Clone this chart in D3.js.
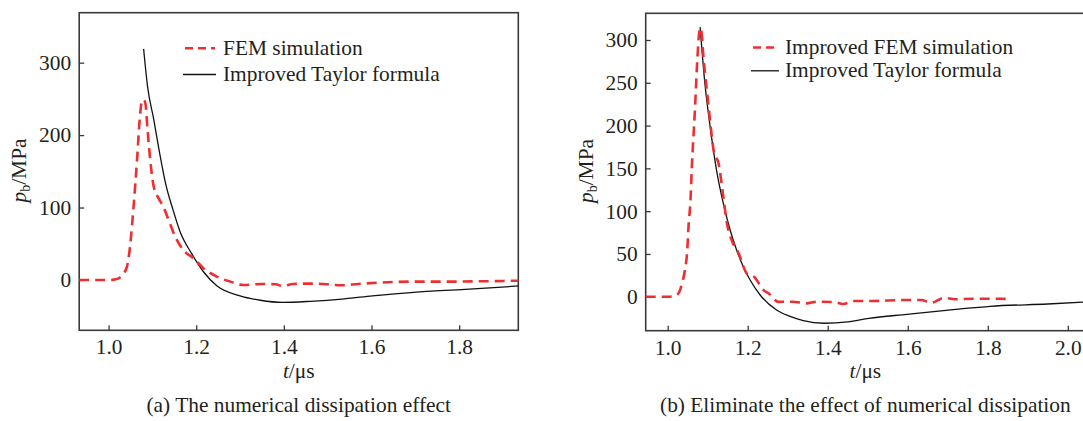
<!DOCTYPE html>
<html>
<head>
<meta charset="utf-8">
<script src="https://cdn.jsdelivr.net/npm/d3@7"></script>
<style>
  body { margin: 0; background: #fff; }
  svg text { font-family: "Liberation Serif", "Times New Roman", serif; fill: #231f20; }
</style>
</head>
<body>
<div id="chart"></div>
<script>
// Panel (a): FEM simulation vs improved Taylor formula
const femTimeA = [0.933, 1.000, 1.012, 1.023, 1.033, 1.042, 1.049, 1.057, 1.065, 1.071, 1.076, 1.080, 1.084, 1.089, 1.095, 1.103, 1.114, 1.125, 1.137, 1.152, 1.171, 1.194, 1.217, 1.247, 1.278, 1.308, 1.350, 1.381, 1.397, 1.421, 1.460, 1.500, 1.531, 1.570, 1.617, 1.696, 1.775, 1.853, 1.935];
const femPressA = [0, 0, 0.5, 2.3, 8, 18.4, 46, 101, 166, 221, 247, 249, 244, 207, 166, 129, 113, 101, 83, 60, 41, 30, 16, 4.6, -2.3, -6.9, -5.5, -6, -8.3, -5.5, -5, -6, -7.4, -5.5, -3.7, -2.3, -2.3, -1.8, -1];
const taylorTimeA = [1.080, 1.089, 1.103, 1.116, 1.131, 1.146, 1.163, 1.190, 1.217, 1.247, 1.300, 1.346, 1.397, 1.460, 1.539, 1.602, 1.696, 1.814, 1.936];
const taylorPressA = [319, 267, 222, 177, 131, 99, 67, 36, 11, -8, -22, -28, -31, -29.5, -26, -22, -17, -13, -8.3];

// Panel (b): improved FEM simulation vs improved Taylor formula
const femTimeB = [0.945, 1.000, 1.015, 1.027, 1.036, 1.043, 1.049, 1.052, 1.057, 1.060, 1.068, 1.074, 1.079, 1.081, 1.084, 1.088, 1.093, 1.100, 1.106, 1.116, 1.127, 1.139, 1.148, 1.160, 1.177, 1.198, 1.217, 1.239, 1.252, 1.277, 1.313, 1.347, 1.373, 1.416, 1.438, 1.468, 1.512, 1.590, 1.633, 1.659, 1.676, 1.689, 1.719, 1.763, 1.806, 1.849];
const femPressB = [0, 0, 0.5, 4, 16, 31, 55, 82, 113, 148, 218, 277, 310, 314, 311, 288, 262, 232, 205, 168, 156, 117, 86, 66, 51, 27, 22.7, 8, 4, -6, -5.8, -7.8, -5.8, -6.2, -8.5, -5, -5, -3.9, -3.9, -7, -3.9, -1.2, -3, -2.3, -2.3, -2.5];
const taylorTimeB = [1.081, 1.093, 1.106, 1.122, 1.139, 1.156, 1.172, 1.189, 1.206, 1.231, 1.272, 1.306, 1.339, 1.391, 1.450, 1.503, 1.598, 1.720, 1.806, 1.950, 2.043];
const taylorPressB = [315, 249, 199, 148, 109, 78, 55, 35, 19.5, 2, -15.5, -23, -28, -31, -29.5, -25.3, -20.6, -14.8, -11.2, -8.5, -6.3];

const xTicksA = [1.0, 1.2, 1.4, 1.6, 1.8];
const yTicksA = [0, 100, 200, 300];
const xTicksB = [1.0, 1.2, 1.4, 1.6, 1.8, 2.0];
const yTicksB = [0, 50, 100, 150, 200, 250, 300];

const legendA = ["FEM simulation", "Improved Taylor formula"];
const legendB = ["Improved FEM simulation", "Improved Taylor formula"];
const captionA = "(a) The numerical dissipation effect";
const captionB = "(b) Eliminate the effect of numerical dissipation";

const red = "#ee2e31";
const axisColor = "#3a3a3a";
const fontSize = 21.4;

const svg = d3.select("#chart")
    .append("svg")
    .attr("width", 1083)
    .attr("height", 421);

function drawPanel(p) {
    const x = d3.scaleLinear().domain(p.xDomain).range([p.left, p.right]);
    const y = d3.scaleLinear().domain(p.yDomain).range([p.bottom, p.top]);

    const g = svg.append("g");

    g.append("clipPath")
        .attr("id", p.id + "-clip")
        .append("rect")
        .attr("x", p.left).attr("y", p.top)
        .attr("width", p.right - p.left).attr("height", p.bottom - p.top);

    // X axis (ticks pointing inward)
    const xAxis = g.append("g")
        .attr("transform", `translate(0,${p.bottom})`)
        .call(d3.axisBottom(x).tickValues(p.xTicks).tickSizeInner(-5).tickSizeOuter(0)
            .tickPadding(9).tickFormat(d3.format(".1f")));
    xAxis.select(".domain").remove();

    // Y axis
    const yAxis = g.append("g")
        .attr("transform", `translate(${p.left},0)`)
        .call(d3.axisLeft(y).tickValues(p.yTicks).tickSizeInner(-5).tickSizeOuter(0)
            .tickPadding(8));
    yAxis.select(".domain").remove();

    g.selectAll(".tick line").attr("stroke", axisColor).attr("stroke-width", 1.3);
    g.selectAll(".tick text")
        .style("font-family", "'Liberation Serif', 'Times New Roman', serif")
        .style("font-size", fontSize + "px")
        .attr("fill", "#231f20");

    // Frame
    g.append("rect")
        .attr("x", p.left).attr("y", p.top)
        .attr("width", p.right - p.left).attr("height", p.bottom - p.top)
        .attr("fill", "none")
        .attr("stroke", axisColor)
        .attr("stroke-width", 1.6);

    const plot = g.append("g").attr("clip-path", `url(#${p.id}-clip)`);

    const line = d3.line()
        .x(d => x(d[0]))
        .y(d => y(d[1]))
        .curve(d3.curveMonotoneX);

    plot.append("path")
        .datum(p.taylorT.map((t, i) => [t, p.taylorP[i]]))
        .attr("d", line)
        .attr("fill", "none")
        .attr("stroke", "#111")
        .attr("stroke-width", 1.3);

    plot.append("path")
        .datum(p.femT.map((t, i) => [t, p.femP[i]]))
        .attr("d", line)
        .attr("fill", "none")
        .attr("stroke", red)
        .attr("stroke-width", 2.6)
        .attr("stroke-dasharray", "10,6");

    // Legend
    const lg = g.append("g");
    lg.append("line")
        .attr("x1", p.legX1).attr("x2", p.legX2)
        .attr("y1", p.legY[0]).attr("y2", p.legY[0])
        .attr("stroke", red).attr("stroke-width", 2.6)
        .attr("stroke-dasharray", "8,5");
    lg.append("line")
        .attr("x1", p.legX1 - 2).attr("x2", p.legX2 + 1)
        .attr("y1", p.legY[1]).attr("y2", p.legY[1])
        .attr("stroke", "#111").attr("stroke-width", 1.3);
    p.legend.forEach((label, i) => {
        lg.append("text")
            .attr("x", p.legTextX)
            .attr("y", p.legY[i] + 6.3)
            .style("font-size", fontSize + "px")
            .text(label);
    });

    const cx = (p.left + p.right) / 2;

    // X title
    const xt = g.append("text")
        .attr("x", cx)
        .attr("y", 378)
        .attr("text-anchor", "middle")
        .style("font-size", fontSize + "px");
    xt.append("tspan").style("font-style", "italic").text("t");
    xt.append("tspan").text("/μs");

    // Y title
    const yt = g.append("text")
        .attr("transform", `translate(${p.left - 53},${(p.top + p.bottom) / 2 - 1}) rotate(-90)`)
        .attr("text-anchor", "middle")
        .style("font-size", fontSize + "px");
    yt.append("tspan").style("font-style", "italic").text("p");
    yt.append("tspan").attr("dy", 4).style("font-size", "14px").text("b");
    yt.append("tspan").attr("dy", -4).text("/MPa");

    // Caption
    g.append("text")
        .attr("x", cx)
        .attr("y", 412)
        .attr("text-anchor", "middle")
        .style("font-size", fontSize + "px")
        .text(p.caption);
}

drawPanel({
    id: "a",
    left: 79.2, right: 518.3, top: 12.7, bottom: 330.3,
    xDomain: [0.933, 1.935], yDomain: [-69.5, 369],
    xTicks: xTicksA, yTicks: yTicksA,
    femT: femTimeA, femP: femPressA,
    taylorT: taylorTimeA, taylorP: taylorPressA,
    legend: legendA, legX1: 185, legX2: 215, legTextX: 223, legY: [48.3, 74.5],
    caption: captionA
});

drawPanel({
    id: "b",
    left: 645.7, right: 1085, top: 13.3, bottom: 330.7,
    xDomain: [0.945, 2.043], yDomain: [-39.7, 331.2],
    xTicks: xTicksB, yTicks: yTicksB,
    femT: femTimeB, femP: femPressB,
    taylorT: taylorTimeB, taylorP: taylorPressB,
    legend: legendB, legX1: 753, legX2: 778, legTextX: 785, legY: [47.5, 70.8],
    caption: captionB
});
</script>
</body>
</html>
